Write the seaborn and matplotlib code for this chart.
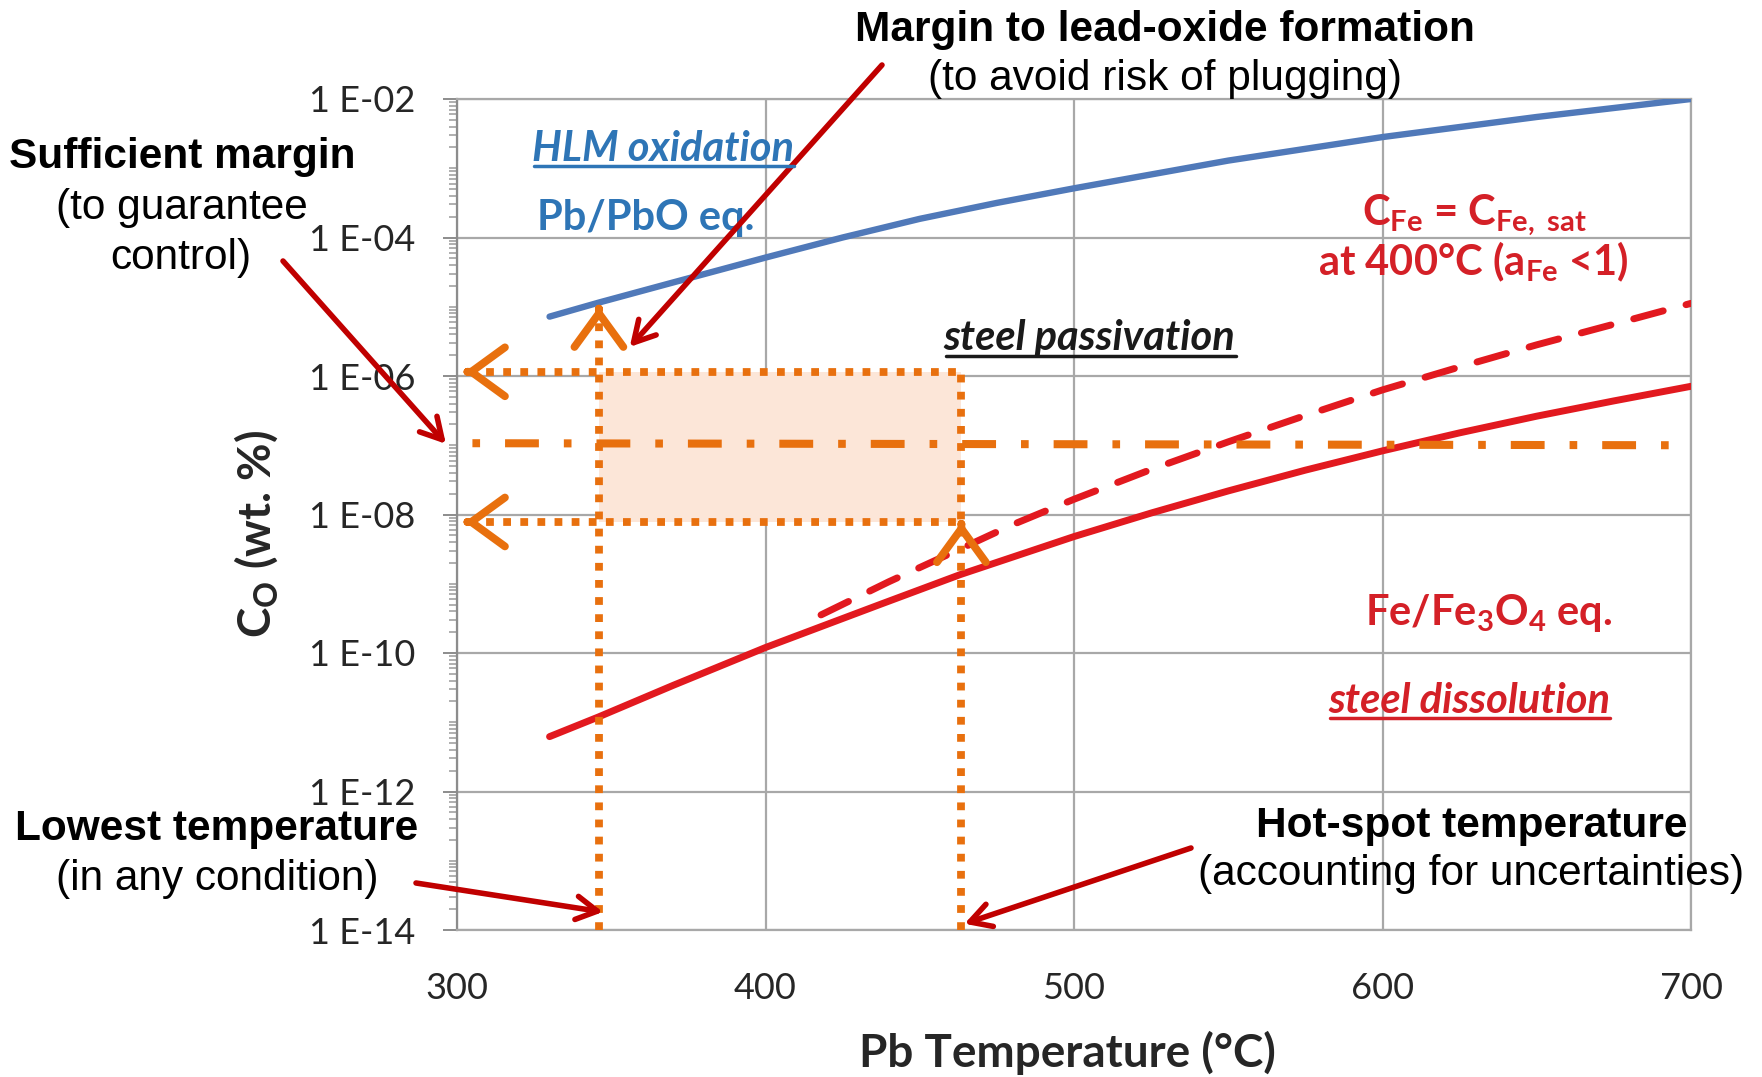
import numpy as np
import pandas as pd
import seaborn as sns
import matplotlib
matplotlib.use("Agg")
import matplotlib.pyplot as plt
from matplotlib.lines import Line2D
from matplotlib.transforms import IdentityTransform
from matplotlib.ticker import FixedLocator, LogLocator, NullFormatter

# ---------------- data ----------------
temp_pbo = [330, 346, 370, 400, 425, 450, 475, 500, 550, 600, 650, 700]
co_pbo = [7.2e-6, 1.15e-5, 2.24e-5, 5.13e-5, 1.0e-4, 1.86e-4, 3.16e-4, 5.13e-4,
          1.29e-3, 2.82e-3, 5.5e-3, 1.0e-2]

temp_fe3o4 = [330, 346, 370, 400, 437, 463, 500, 525, 550, 575, 600, 625, 650, 675, 700]
co_fe3o4 = [6.2e-12, 1.2e-11, 3.4e-11, 1.2e-10, 5.0e-10, 1.35e-9, 4.8e-9, 1.05e-8,
            2.19e-8, 4.37e-8, 8.3e-8, 1.51e-7, 2.63e-7, 4.37e-7, 7.1e-7]

temp_sat = [418, 440, 463, 480, 500, 525, 550, 575, 600, 625, 650, 675, 700]
co_sat = [3.55e-10, 1.07e-9, 3.16e-9, 7.1e-9, 1.66e-8, 4.47e-8, 1.12e-7, 2.69e-7,
          6.3e-7, 1.35e-6, 2.82e-6, 5.6e-6, 1.12e-5]

temp_target = [305, 697]
co_target = [1.07e-7, 1.0e-7]

t_low = 346.0          # lowest temperature
t_hot = 463.5          # hot-spot temperature
co_upper = 1.15e-6     # upper control limit
co_lower = 7.8e-9      # lower control limit
co_low_tip = 1.0e-5    # tip of lowest-temperature arrow
t_arrow_tip = 302.5    # tip of the leftward arrows

x_ticks = [300, 400, 500, 600, 700]
y_ticks = [1e-14, 1e-12, 1e-10, 1e-8, 1e-6, 1e-4, 1e-2]
y_ticklabels = ["1 E-14", "1 E-12", "1 E-10", "1 E-08", "1 E-06", "1 E-04", "1 E-02"]

# ---------------- style ----------------
sns.set_theme(style="white")
plt.rcParams["font.family"] = ["Lato", "DejaVu Sans"]
plt.rcParams["mathtext.fontset"] = "custom"
plt.rcParams["mathtext.rm"] = "Lato:bold"
plt.rcParams["mathtext.bf"] = "Lato:bold"
plt.rcParams["mathtext.it"] = "Lato:bold:italic"
plt.rcParams["mathtext.default"] = "rm"

BLUE_LINE = "#5079B9"
BLUE_TXT = "#2E75B6"
RED = "#E2191F"
RED_TXT = "#D42027"
DARK_RED = "#C00000"
ORANGE = "#E8700E"
SHADE = "#FCE6D8"
GRID = "#A8A8A8"

W, H = 1762, 1077
fig = plt.figure(figsize=(W / 100, H / 100), dpi=100)
ax = fig.add_axes([457 / W, 1 - 930 / H, (1691 - 457) / W, (930 - 99) / H])
ax.set_yscale("log")
ax.set_xlim(300, 700)
ax.set_ylim(1e-14, 1e-2)

# ---------------- curves ----------------
df = pd.concat([
    pd.DataFrame({"T": temp_pbo, "C": co_pbo, "curve": "Pb/PbO"}),
    pd.DataFrame({"T": temp_fe3o4, "C": co_fe3o4, "curve": "Fe/Fe3O4"}),
    pd.DataFrame({"T": temp_sat, "C": co_sat, "curve": "sat"}),
], ignore_index=True)
sns.lineplot(data=df, x="T", y="C", hue="curve", style="curve",
             palette={"Pb/PbO": BLUE_LINE, "Fe/Fe3O4": RED, "sat": RED},
             dashes={"Pb/PbO": "", "Fe/Fe3O4": "", "sat": (4.4, 3.4)},
             linewidth=5.2, estimator=None, legend=False, ax=ax, zorder=4)
for ln in ax.get_lines():
    ln.set_linewidth(5.0 if ln.get_color() != BLUE_LINE else 4.6)
    ln.set_solid_capstyle("round")
    ln.set_solid_joinstyle("round")
    ln.set_dash_capstyle("round")
    ln.set_dash_joinstyle("round")

# ---------------- control window ----------------
ax.fill_between([t_low, t_hot], co_lower, co_upper, color=SHADE, lw=0, zorder=1.5)
dot = dict(color=ORANGE, lw=5.6, linestyle=(0, (1.0, 1.2)), dash_capstyle="butt", zorder=5)
ax.plot([t_low, t_low], [1e-14, co_low_tip * 0.8], **dot)
ax.plot([t_hot, t_hot], [1e-14, co_upper], **dot)
ax.plot([t_arrow_tip + 1.5, t_hot], [co_upper, co_upper], **dot)
ax.plot([t_arrow_tip + 1.5, t_hot], [co_lower, co_lower], **dot)
ax.plot(temp_target, co_target, color=ORANGE, lw=5.8,
        linestyle=(0, (0.95, 3.1, 4.2, 3.1)), dash_capstyle="butt", zorder=5)

chev = dict(arrowstyle="->,head_length=1.1,head_width=0.8", mutation_scale=22,
            lw=5.6, color=ORANGE, shrinkA=0, shrinkB=0,
            joinstyle="round", capstyle="round")
ax.annotate("", xy=(t_arrow_tip, co_upper), xytext=(t_arrow_tip + 1.0, co_upper),
            arrowprops=chev, zorder=6)
ax.annotate("", xy=(t_arrow_tip, co_lower), xytext=(t_arrow_tip + 1.0, co_lower),
            arrowprops=chev, zorder=6)
ax.annotate("", xy=(t_low, co_low_tip), xytext=(t_low, co_low_tip * 0.93),
            arrowprops=chev, zorder=6)
ax.annotate("", xy=(t_hot, co_lower), xytext=(t_hot, co_lower * 0.93),
            arrowprops=chev, zorder=6)

# ---------------- axes styling ----------------
ax.set_axisbelow(True)
ax.grid(True, which="major", color=GRID, lw=1.6)
ax.grid(False, which="minor")
for s in ax.spines.values():
    s.set_color(GRID)
    s.set_linewidth(1.6)
ax.spines["left"].set_color("#8C8C8C")
ax.xaxis.set_major_locator(FixedLocator(x_ticks))
ax.set_xticklabels([str(v) for v in x_ticks])
ax.yaxis.set_major_locator(FixedLocator(y_ticks))
ax.set_yticklabels(y_ticklabels)
ax.yaxis.set_minor_locator(LogLocator(base=10, subs=np.arange(1, 10), numticks=200))
ax.yaxis.set_minor_formatter(NullFormatter())
ax.tick_params(axis="y", which="major", left=True, length=10, width=1.4,
               color="#8C8C8C", pad=20, labelsize=26, labelcolor="#262626")
ax.tick_params(axis="y", which="minor", left=True, length=5.5, width=1.1, color="#9A9A9A")
ax.tick_params(axis="x", which="both", bottom=False, length=0, pad=30,
               labelsize=26, labelcolor="#262626")

ax.set_xlabel("Pb Temperature (°C)", fontsize=33, fontweight="bold", color="#262626")
ax.set_ylabel("C$_\\mathrm{O}$ (wt. %)", fontsize=33, fontweight="bold", color="#262626")
ax.xaxis.set_label_coords(0.495, -0.148)
ax.xaxis.label.set_va("center")
ax.yaxis.set_label_coords(-0.163, 0.4765)
ax.yaxis.label.set_va("center")

# ---------------- in-plot labels ----------------
underlined = []
t = ax.text(366.7, 10 ** -2.89, "HLM oxidation", ha="center", va="baseline",
            fontsize=30, fontweight="bold", fontstyle="italic", color=BLUE_TXT, zorder=7)
underlined.append(t)
ax.text(361.2, 10 ** -3.89, "Pb/PbO eq.", ha="center", va="baseline",
        fontsize=30, fontweight="bold", color=BLUE_TXT, zorder=7)
t = ax.text(505.1, 10 ** -5.63, "steel passivation", ha="center", va="baseline",
            fontsize=30, fontweight="bold", fontstyle="italic", color="#1A1A1A", zorder=7)
underlined.append(t)
ax.text(629.7, 10 ** -3.815, "C$_\\mathrm{Fe}$ = C$_\\mathrm{Fe,\\ sat}$", ha="center",
        va="baseline", fontsize=30, fontweight="bold", color=RED_TXT, zorder=7)
ax.text(629.3, 10 ** -4.546, "at 400°C (a$_\\mathrm{Fe}$ <1)", ha="center",
        va="baseline", fontsize=30, fontweight="bold", color=RED_TXT, zorder=7)
ax.text(634.4, 10 ** -9.59, "Fe/Fe$_\\mathrm{3}$O$_\\mathrm{4}$ eq.", ha="center",
        va="baseline", fontsize=30, fontweight="bold", color=RED_TXT, zorder=7)
t = ax.text(628.2, 10 ** -10.86, "steel dissolution", ha="center", va="baseline",
            fontsize=30, fontweight="bold", fontstyle="italic", color=RED_TXT, zorder=7)
underlined.append(t)

# ---------------- outer annotations ----------------
ANN = ["Liberation Sans", "DejaVu Sans"]


def ftext(x, y, s, bold):
    fig.text(x / W, 1 - y / H, s, ha="center", va="center", fontsize=30.5,
             family=ANN, fontweight="bold" if bold else "normal", color="black")


ftext(1165, 30, "Margin to lead-oxide formation", True)
ftext(1165, 79, "(to avoid risk of plugging)", False)
ftext(182, 157, "Sufficient margin", True)
ftext(182, 208, "(to guarantee", False)
ftext(181, 258, "control)", False)
ftext(217, 829, "Lowest temperature", True)
ftext(217, 879, "(in any condition)", False)
ftext(1472, 826, "Hot-spot temperature", True)
ftext(1471, 874, "(accounting for uncertainties)", False)

red_arrow = dict(arrowstyle="->,head_length=0.75,head_width=0.42", mutation_scale=20,
                 lw=4.0, color=DARK_RED, shrinkA=0, shrinkB=0,
                 joinstyle="round", capstyle="round")
for tip, tail in [((356.0, 10 ** -5.58), (882, 65)),
                  ((296.4, 10 ** -6.98), (283, 261)),
                  ((347.3, 10 ** -13.74), (416, 883)),
                  ((464.5, 10 ** -13.91), (1191, 848))]:
    ax.annotate("", xy=tip, xycoords="data", xytext=(tail[0], H - tail[1]),
                textcoords="figure pixels", arrowprops=red_arrow,
                annotation_clip=False, zorder=8)

# underline the italic labels
fig.canvas.draw()
renderer = fig.canvas.get_renderer()
for t in underlined:
    bb = t.get_window_extent(renderer)
    y = bb.y0 + 1.5
    fig.add_artist(Line2D([bb.x0 + 2, bb.x1], [y, y], transform=IdentityTransform(),
                          color=t.get_color(), lw=2.5, zorder=7))

fig.savefig("out.png", dpi=100)
